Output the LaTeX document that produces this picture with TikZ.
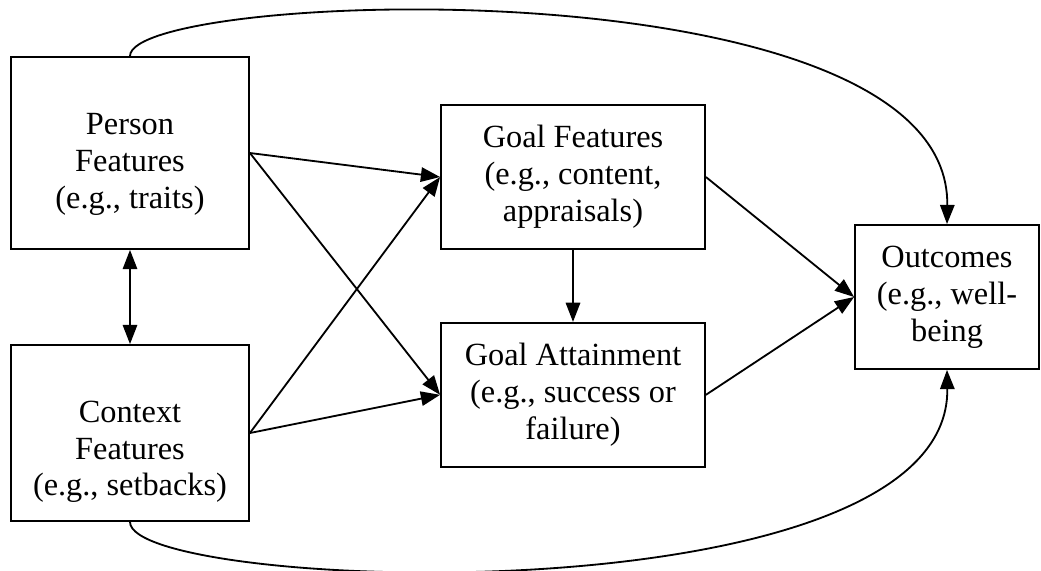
\documentclass[tikz,border=0pt]{standalone}
\usepackage{fontspec}
\setmainfont{Liberation Serif}
\usetikzlibrary{positioning,arrows.meta}
\tikzstyle{box}=[rectangle, draw, align=center, inner sep=0]

\begin{document}
\begin{tikzpicture}[font=\fontsize{23}{26.3}\selectfont,line width=1.3pt,
    >={Triangle[length=4.8mm,width=3.6mm]}]

        \useasboundingbox (0,0) rectangle (26.025,-14.25);

        \node[box,
            minimum width=5.95cm,
            minimum height=4.8cm] (block1) at (3.25,-3.825) {};
        \node[align=center] (text1) at ([yshift=-0.29cm]block1.center) {Person\\Features\\(e.g., traits)};

        \node[box,
            minimum width=5.95cm,
            minimum height=4.4cm] (block2) at (3.25,-10.825) {};
        \node[align=center] (text2) at ([yshift=-0.47cm]block2.center) {Context\\Features\\(e.g., setbacks)};

        \node[box,
            minimum width=6.6cm,
            minimum height=3.6cm] (block3) at (14.325,-4.425) {Goal Features\\(e.g., content,\\appraisals)};

        \node[box,
            below=1.8cm of block3,
            minimum width=6.6cm,
            minimum height=3.6cm] (block4) {Goal Attainment\\(e.g., success or\\failure)};

        \node[box,
            minimum width=4.6cm,
            minimum height=3.6cm] (block5) at (23.675,-7.425) {Outcomes\\(e.g., well-\\being};

% Arrows
        \draw[<->] (block1) -- (block2);
        \draw[->] (block1.east) -- (block3.west);
        \draw[->] (block1.east) -- (block4.west);
        \draw[->] (block2.east) -- (block3.west);
        \draw[->] (block2.east) -- (block4.west);
        \draw[->] (block3) -- (block4);
        \draw[->] (block3.east) -- (block5.west);
        \draw[->] (block4.east) -- (block5.west);

        \draw[->] (block1.north) .. controls (3.25,0.25) and (23.775,1.0) .. (block5.north);
        \draw[->] (block2.south) .. controls (3.25,-14.8) and (23.775,-15.55) .. (block5.south);

    \end{tikzpicture}
\end{document}
